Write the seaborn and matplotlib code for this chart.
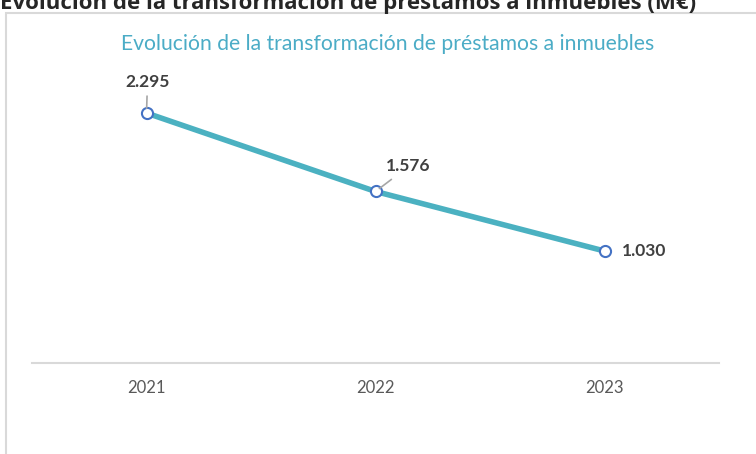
import matplotlib
matplotlib.use("Agg")
import matplotlib.pyplot as plt
import matplotlib.patches as patches
import seaborn as sns
import pandas as pd

# values (M€)
years = ["2021", "2022", "2023"]
values = [2295, 1576, 1030]
labels = ["2.295", "1.576", "1.030"]

header = "Evolución de la transformación de préstamos a inmuebles (M€)"
title = "Evolución de la transformación de préstamos a inmuebles"

sns.set_theme(style="white")
plt.rcParams['font.family'] = ['Lato', 'DejaVu Sans']

df = pd.DataFrame({"year": years, "value": values})

fig = plt.figure(figsize=(7.56, 4.54), dpi=100)
ax = fig.add_axes([32 / 756, 0.1996, 687 / 756, 0.6007])

sns.lineplot(data=df, x="year", y="value", ax=ax, color="#4BB1C1", linewidth=4,
             marker="o", markersize=8, markerfacecolor="white",
             markeredgecolor="#4472C4", markeredgewidth=1.5, sort=False)

ax.set_xlim(-0.5, 2.5)
ax.set_ylim(0, 2500)
ax.set_xlabel("")
ax.set_ylabel("")
ax.set_yticks([])
for s in ["left", "right", "top"]:
    ax.spines[s].set_visible(False)
ax.spines["bottom"].set_color("#D9D9D9")
ax.spines["bottom"].set_linewidth(1.5)
ax.tick_params(axis="x", length=0, pad=12, labelsize=12, labelcolor="#595959")

# data labels with leader lines
offsets = [(1, 31), (33, 25), (17, 0)]
has_leader = [True, True, False]
for i, (lab, off, lead) in enumerate(zip(labels, offsets, has_leader)):
    ha = "left" if not lead else "center"
    kw = {}
    if lead:
        kw["arrowprops"] = dict(arrowstyle="-", color="#A6A6A6", lw=1.2,
                                shrinkA=2, shrinkB=3.5)
    ax.annotate(lab, xy=(i, values[i]), xytext=off, textcoords="offset pixels",
                ha=ha, va="center", fontsize=12.5, fontweight="bold",
                color="#404040", **kw)

# chart title inside the frame
fig.text(388 / 756, 1 - 44 / 454, title, ha="center", va="center",
         fontsize=15.2, color="#4BACC6")

# outer frame and clipped header above it
fig.patches.append(patches.Rectangle((6 / 756, -0.1), 1.2, 1 - 12.5 / 454 + 0.1,
                                     transform=fig.transFigure, fill=False,
                                     edgecolor="#D9D9D9", linewidth=1.5))
fig.text(0, 1 - 9.5 / 454, header, ha="left", va="baseline", fontsize=16,
         fontweight="bold", color="#262626", family=["Open Sans", "DejaVu Sans"])

fig.savefig("out.png", dpi=100)
plt.close()
